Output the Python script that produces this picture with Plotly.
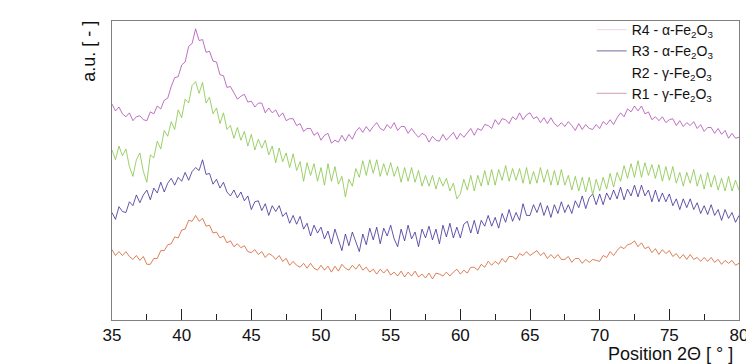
import numpy as np
import plotly.graph_objects as go

# 2-theta positions (0.25 degree steps)
two_theta = np.linspace(35, 80, 181)

# Intensities (a.u., stacked offsets)
r4_alpha = [
    216, 209, 213, 206, 203, 207, 199, 203, 204, 200, 199, 208, 206, 214, 211, 220,
    222, 234, 243, 244, 256, 259, 275, 278, 293, 281, 282, 269, 270, 260, 259, 246,
    245, 233, 234, 228, 221, 224, 226, 218, 219, 213, 217, 217, 207, 212, 207, 210,
    203, 207, 199, 201, 201, 194, 196, 188, 191, 191, 184, 187, 179, 184, 186, 176,
    179, 177, 184, 178, 185, 180, 188, 192, 187, 193, 188, 193, 197, 191, 189, 195,
    191, 197, 189, 193, 193, 186, 191, 186, 182, 186, 184, 177, 183, 179, 178, 185,
    179, 183, 187, 180, 186, 182, 187, 191, 184, 191, 189, 195, 194, 191, 200, 195,
    201, 200, 196, 203, 200, 207, 200, 205, 207, 201, 203, 197, 202, 196, 202, 196,
    193, 197, 193, 198, 194, 189, 196, 190, 195, 191, 190, 195, 191, 198, 195, 200,
    195, 202, 207, 203, 211, 208, 214, 209, 214, 206, 208, 200, 203, 199, 203, 197,
    200, 201, 194, 199, 193, 197, 194, 198, 191, 195, 188, 192, 192, 186, 191, 185,
    189, 181, 186, 181, 182,
]
r3_alpha = [
    105, 98, 111, 106, 105, 116, 112, 123, 115, 123, 128, 118, 130, 125, 136, 126,
    135, 140, 133, 141, 137, 146, 138, 147, 151, 148, 159, 144, 145, 134, 139, 130,
    136, 126, 122, 128, 120, 126, 117, 122, 108, 116, 117, 107, 114, 102, 112, 106,
    112, 101, 105, 94, 102, 93, 101, 88, 94, 81, 92, 84, 90, 78, 86, 73,
    88, 76, 66, 83, 71, 85, 74, 65, 83, 72, 89, 77, 90, 73, 89, 81,
    92, 78, 70, 88, 76, 92, 78, 85, 70, 88, 79, 91, 77, 88, 73, 92,
    80, 94, 79, 90, 79, 93, 96, 84, 97, 83, 97, 91, 102, 91, 100, 89,
    104, 95, 108, 96, 105, 97, 114, 102, 102, 113, 105, 115, 102, 112, 100, 113,
    104, 116, 105, 113, 104, 117, 110, 122, 109, 120, 124, 113, 124, 113, 125, 118,
    128, 119, 131, 118, 129, 122, 133, 121, 133, 122, 128, 116, 128, 116, 125, 116,
    124, 112, 119, 108, 119, 110, 119, 108, 115, 104, 112, 103, 113, 102, 108, 97,
    108, 99, 105, 95, 102,
]
r2_gamma = [
    169, 159, 173, 163, 170, 152, 142, 159, 166, 147, 136, 164, 161, 178, 170, 189,
    183, 198, 190, 210, 202, 221, 217, 235, 239, 227, 238, 217, 223, 206, 212, 196,
    207, 190, 194, 181, 192, 179, 188, 173, 185, 169, 180, 171, 179, 164, 173, 156,
    171, 157, 166, 151, 165, 148, 157, 137, 156, 143, 155, 137, 151, 133, 155, 137,
    152, 134, 142, 121, 139, 132, 150, 141, 158, 143, 159, 145, 159, 142, 155, 143,
    156, 142, 152, 136, 151, 137, 151, 136, 148, 132, 143, 132, 143, 129, 141, 132,
    140, 127, 135, 119, 124, 139, 128, 143, 127, 143, 132, 148, 133, 149, 133, 149,
    138, 153, 137, 150, 138, 150, 135, 151, 134, 147, 135, 151, 136, 149, 133, 148,
    133, 149, 133, 143, 128, 142, 127, 141, 126, 141, 123, 139, 127, 141, 129, 145,
    131, 146, 137, 153, 140, 155, 141, 158, 141, 156, 143, 154, 140, 154, 137, 152,
    138, 152, 135, 146, 132, 146, 135, 149, 132, 144, 129, 146, 131, 143, 128, 140,
    127, 142, 127, 138, 128,
]
r1_gamma = [
    67, 61, 65, 61, 65, 60, 57, 61, 56, 60, 52, 52, 58, 58, 66, 66,
    72, 73, 80, 79, 87, 88, 97, 96, 102, 96, 99, 91, 92, 84, 85, 79,
    81, 74, 76, 70, 73, 69, 71, 65, 64, 67, 62, 65, 59, 63, 61, 57,
    61, 55, 58, 51, 55, 51, 49, 53, 48, 53, 48, 46, 51, 46, 50, 44,
    50, 45, 52, 48, 46, 51, 47, 52, 46, 49, 44, 47, 42, 47, 43, 47,
    41, 44, 40, 45, 39, 44, 40, 45, 39, 42, 38, 43, 37, 43, 42, 40,
    44, 40, 44, 47, 42, 46, 43, 49, 49, 46, 52, 49, 55, 51, 55, 52,
    58, 54, 60, 60, 57, 63, 61, 65, 61, 64, 66, 61, 64, 58, 62, 58,
    62, 57, 57, 60, 54, 58, 58, 53, 57, 54, 57, 56, 55, 61, 59, 65,
    61, 66, 70, 68, 72, 73, 76, 70, 74, 68, 70, 64, 68, 62, 67, 63,
    66, 60, 63, 58, 62, 57, 62, 57, 59, 55, 59, 55, 59, 54, 57, 52,
    56, 53, 56, 51, 53,
]

series_names = ["R4 - α-Fe<sub>2</sub>O<sub>3</sub>", "R3 - α-Fe<sub>2</sub>O<sub>3</sub>",
                "R2 - γ-Fe<sub>2</sub>O<sub>3</sub>", "R1 - γ-Fe<sub>2</sub>O<sub>3</sub>"]
series_values = [r4_alpha, r3_alpha, r2_gamma, r1_gamma]
line_colors = ["#ac4cb4", "#3e2c94", "#84c444", "#d2602e"]
legend_colors = ["#f2dceb", "#8c8cb4", "rgba(255,255,255,0)", "#dcb0c4"]

fig = go.Figure()
for vals, col in zip(series_values, line_colors):
    fig.add_trace(go.Scatter(x=two_theta, y=vals, mode="lines",
                             line=dict(color=col, width=0.8), showlegend=False,
                             hoverinfo="skip"))
for name, col in zip(series_names, legend_colors):
    fig.add_trace(go.Scatter(x=[None], y=[None], mode="lines", name=name,
                             line=dict(color=col, width=1.2)))

font_family = "Liberation Sans, Arial, sans-serif"
# page body adds an 8px margin, so the figure is 8px smaller than the window
fig.update_layout(
    width=746, height=356,
    margin=dict(l=104, r=12, t=6, b=44),
    paper_bgcolor="white", plot_bgcolor="white",
    font=dict(family=font_family, color="#111111"),
    legend=dict(x=0.765, y=1.023, xanchor="left", yanchor="top",
                bgcolor="rgba(0,0,0,0)", font=dict(size=14, family=font_family),
                tracegroupgap=0, itemwidth=30),
    xaxis=dict(range=[35, 80], dtick=5, tick0=35, ticks="inside", ticklen=11,
               tickcolor="#222222", tickwidth=1,
               minor=dict(dtick=2.5, ticks="inside", ticklen=6, tickcolor="#222222"),
               showline=True, linecolor="#808080", linewidth=1, mirror=True,
               showgrid=False, zeroline=False, tickfont=dict(size=17)),
    yaxis=dict(range=[-5, 301], showticklabels=False, ticks="", showgrid=False,
               zeroline=False, showline=True, linecolor="#808080", linewidth=1,
               mirror=True),
    annotations=[
        dict(text="a.u. [ - ]", xref="paper", yref="paper", x=-0.0365, y=1.006,
             xanchor="center", yanchor="top", textangle=-90, showarrow=False,
             font=dict(size=18)),
        dict(text="Position 2Θ [ ° ]", xref="paper", yref="paper", x=0.9937, y=-0.072,
             xanchor="right", yanchor="top", showarrow=False, font=dict(size=18)),
    ],
)

fig.write_html("out.html")
